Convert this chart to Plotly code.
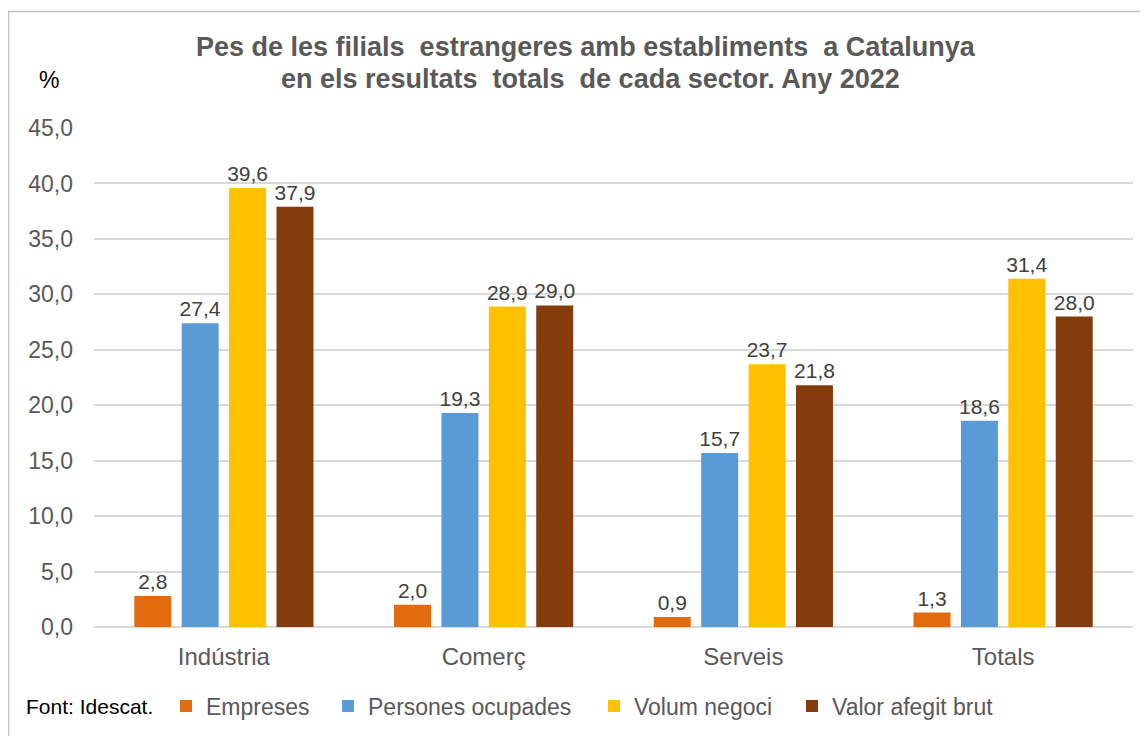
import plotly.graph_objects as go

categories = ["Indústria", "Comerç", "Serveis", "Totals"]
empreses = [2.8, 2.0, 0.9, 1.3]
persones = [27.4, 19.3, 15.7, 18.6]
volum = [39.6, 28.9, 23.7, 31.4]
valor = [37.9, 29.0, 21.8, 28.0]
series_names = ["Empreses", "Persones ocupades", "Volum negoci", "Valor afegit brut"]
colors = ["#E26B10", "#5B9BD5", "#FFC000", "#843C0C"]
y_ticks = [0, 5, 10, 15, 20, 25, 30, 35, 40, 45]

# page has an 8px body margin: work in page coordinates, shift by OFF
OFF = 8
W, H = 1148 - OFF, 736 - OFF
L, R, T, B = 94 - OFF, 1133 - OFF, 128 - OFF, 627 - OFF
FONT = "Liberation Sans, Arial"

legend_ids = ["legend", "legend2", "legend3", "legend4"]
square_page_x = [180, 342, 608, 806]

fig = go.Figure()
for name, vals, col, lid in zip(series_names, [empreses, persones, volum, valor], colors, legend_ids):
    fig.add_trace(go.Bar(
        x=categories, y=vals, name=name, marker=dict(color=col, line=dict(width=0)),
        texttemplate="%{y:.1f}", textposition="outside", cliponaxis=False,
        constraintext="none", legend=lid,
        textfont=dict(family=FONT, size=21, color="#404040"),
    ))

def px_x(p):  # page px -> paper
    return (p - OFF - L) / (R - L)

def px_y(p):
    return (B - (p - OFF)) / (B - T)

legend_cfg = {}
for lid, sx in zip(legend_ids, square_page_x):
    legend_cfg[lid] = dict(orientation="h", xref="container", yref="container",
                           x=(sx - OFF - 14) / W, y=(H - (706 - OFF)) / H,
                           xanchor="left", yanchor="middle",
                           font=dict(family=FONT, size=23, color="#595959"),
                           bgcolor="rgba(0,0,0,0)")

fig.update_layout(
    width=W, height=H,
    margin=dict(l=L, r=W - R, t=T, b=H - B),
    paper_bgcolor="white", plot_bgcolor="white",
    separators=",.",
    barmode="group", bargap=0.27, bargroupgap=0.22,
    font=dict(family=FONT, color="#595959"),
    xaxis=dict(showgrid=False, showline=False, ticks="", ticklabelstandoff=13,
               tickfont=dict(size=24, color="#595959")),
    yaxis=dict(range=[0, 45], tickvals=y_ticks, tickformat=".1f", showgrid=True,
               gridcolor="#D9D9D9", gridwidth=1.5, zeroline=True, zerolinecolor="#D9D9D9",
               zerolinewidth=1.5, showline=False, ticks="", ticklabelstandoff=20,
               tickfont=dict(size=23, color="#595959")),
    showlegend=True,
    **legend_cfg,
)

fig.add_annotation(
    text="<b>Pes de les filials  estrangeres amb establiments  a Catalunya</b>",
    xref="paper", yref="paper", x=px_x(586), y=px_y(47), xanchor="center", yanchor="middle",
    showarrow=False, font=dict(size=27, color="#595959", family=FONT),
)
fig.add_annotation(
    text="<b>en els resultats  totals  de cada sector. Any 2022</b>",
    xref="paper", yref="paper", x=px_x(590), y=px_y(79), xanchor="center", yanchor="middle",
    showarrow=False, font=dict(size=27, color="#595959", family=FONT),
)
fig.add_annotation(
    text="%", xref="paper", yref="paper", x=px_x(37), y=px_y(80), xanchor="left", yanchor="middle",
    showarrow=False, font=dict(size=23, color="#000000", family=FONT),
)
fig.add_annotation(
    text="Font: Idescat.", xref="paper", yref="paper", x=px_x(24), y=px_y(706), xanchor="left",
    yanchor="middle", showarrow=False, font=dict(size=21, color="#000000", family=FONT),
)
fig.add_shape(type="rect", xref="paper", yref="paper", x0=px_x(8.5), x1=px_x(1220), y0=px_y(800), y1=px_y(11.5),
              line=dict(color="#BFBFBF", width=1.5), fillcolor="rgba(0,0,0,0)", layer="below")

fig.write_html("out.html")
